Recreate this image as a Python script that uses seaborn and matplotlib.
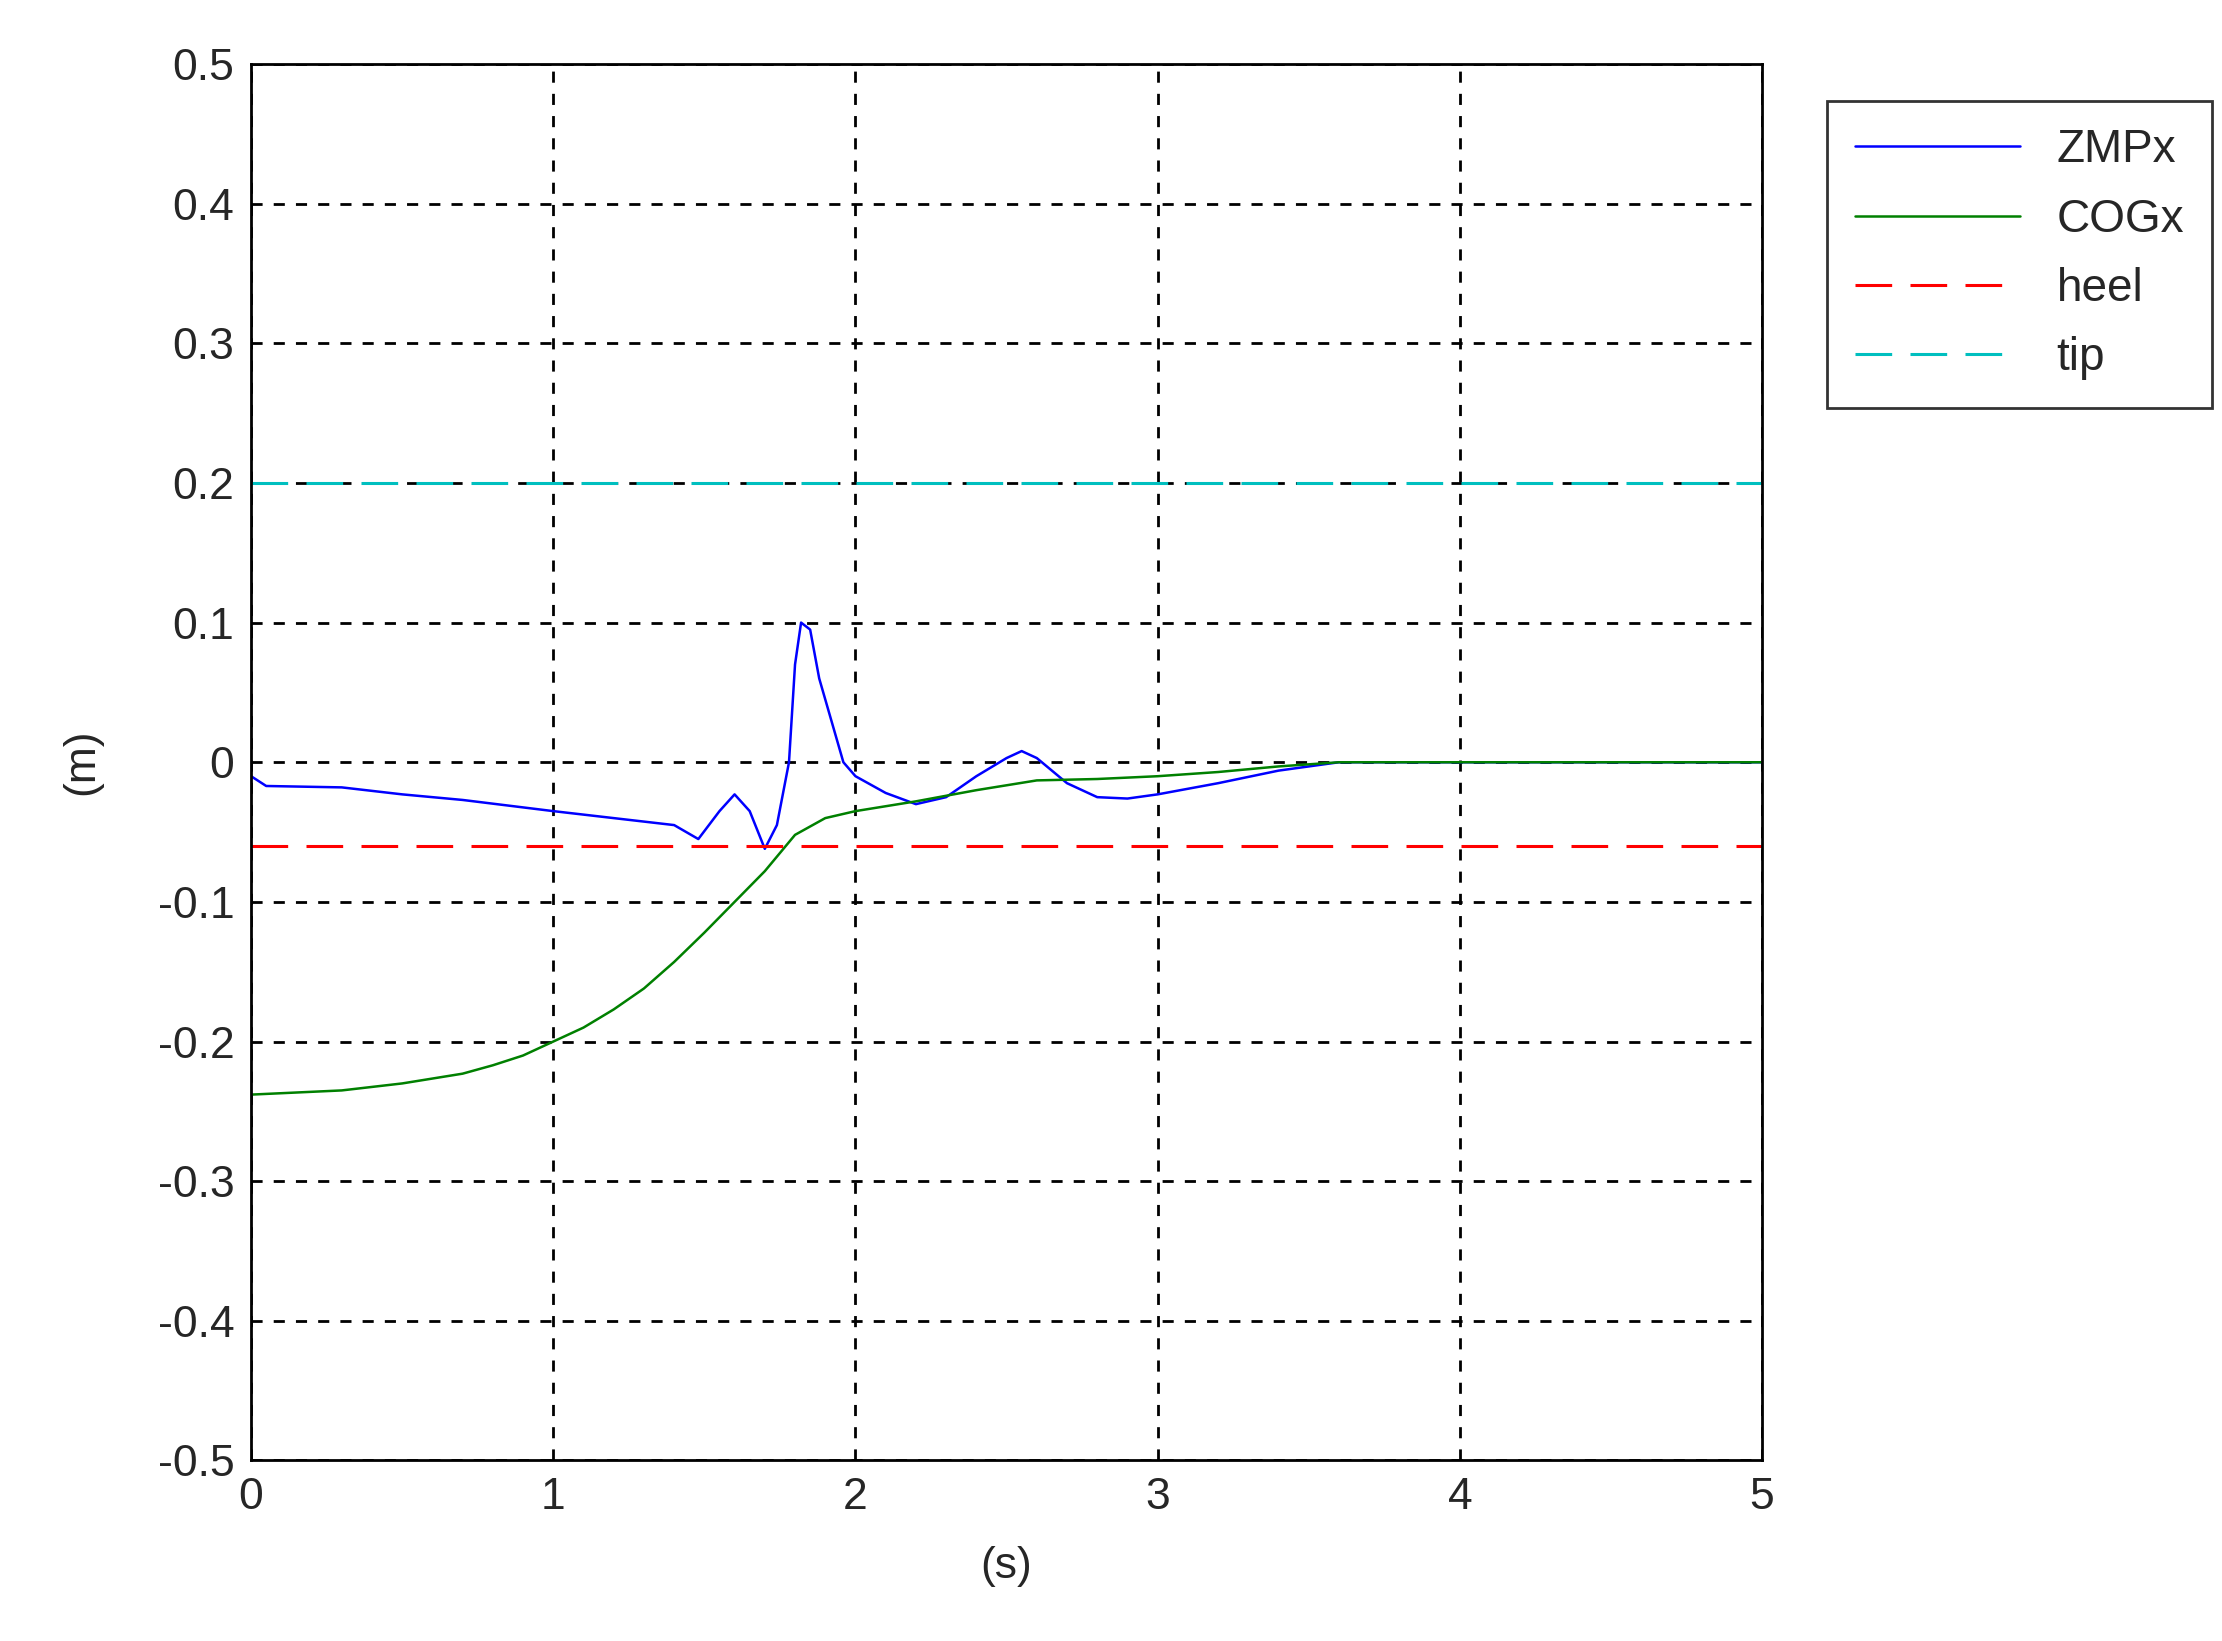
import numpy as np
import pandas as pd
import seaborn as sns
import matplotlib
matplotlib.use("Agg")
import matplotlib.pyplot as plt

# values
zmp_t = [0, 0.05, 0.3, 0.5, 0.7, 1.0, 1.2, 1.4, 1.48, 1.55, 1.6, 1.65, 1.7, 1.74, 1.78, 1.8, 1.82,
         1.85, 1.88, 1.92, 1.96, 2.0, 2.1, 2.2, 2.3, 2.4, 2.5, 2.55, 2.6, 2.7, 2.8, 2.9, 3.0, 3.2,
         3.4, 3.6, 5.0]
zmp_x = [-0.01, -0.017, -0.018, -0.023, -0.027, -0.035, -0.04, -0.045, -0.055, -0.035, -0.023,
         -0.035, -0.062, -0.045, 0.0, 0.07, 0.1, 0.095, 0.06, 0.03, 0.0, -0.01, -0.022, -0.03,
         -0.025, -0.01, 0.003, 0.008, 0.003, -0.015, -0.025, -0.026, -0.023, -0.015, -0.006, 0.0, 0.0]
cog_t = [0, 0.3, 0.5, 0.7, 0.8, 0.9, 1.0, 1.1, 1.2, 1.3, 1.4, 1.5, 1.6, 1.7, 1.8, 1.9, 2.0, 2.2,
         2.4, 2.6, 2.8, 3.0, 3.2, 3.4, 3.6, 5.0]
cog_x = [-0.238, -0.235, -0.23, -0.223, -0.217, -0.21, -0.2, -0.19, -0.177, -0.162, -0.143, -0.122,
         -0.1, -0.078, -0.052, -0.04, -0.035, -0.028, -0.02, -0.013, -0.012, -0.01, -0.007, -0.003,
         0.0, 0.0]
heel = -0.06
tip = 0.2

sns.set_style("white")
plt.rcParams["font.family"] = ["Liberation Sans", "DejaVu Sans"]

fig = plt.figure(figsize=(22.22, 16.41), dpi=100)
ax = fig.add_axes([0.113, 0.110, 0.680, 0.851])

sns.lineplot(x=zmp_t, y=zmp_x, ax=ax, color="#0000ff", lw=1.8, label="ZMPx")
sns.lineplot(x=cog_t, y=cog_x, ax=ax, color="#008000", lw=1.8, label="COGx")
sns.lineplot(x=[0, 5], y=[heel, heel], ax=ax, color="#ff0000", lw=2.2, label="heel")
sns.lineplot(x=[0, 5], y=[tip, tip], ax=ax, color="#00bfbf", lw=2.2, label="tip")
for ln in ax.lines[2:4]:
    ln.set_dashes((12, 6))

ax.set_xlim(0, 5)
ax.set_ylim(-0.5, 0.5)
ax.set_xticks(np.arange(0, 6, 1))
ax.set_yticks(np.round(np.arange(-0.5, 0.51, 0.1), 1))
ax.set_yticklabels(["-0.5", "-0.4", "-0.3", "-0.2", "-0.1", "0", "0.1", "0.2", "0.3", "0.4", "0.5"])
ax.grid(True, color="black", linestyle=(0, (4, 4)), lw=2)
ax.tick_params(labelsize=32, direction="in", length=8, width=1.5, pad=12)
for s in ax.spines.values():
    s.set_color("black")
    s.set_linewidth(2)
ax.set_xlabel("(s)", fontsize=32, labelpad=20)
ax.set_ylabel("(m)", fontsize=32, labelpad=40)

leg = ax.legend(loc="upper left", bbox_to_anchor=(1.028, 0.99), fontsize=33, frameon=True,
                fancybox=False, edgecolor="black", handlelength=3.6, borderpad=0.6,
                labelspacing=0.55)
leg.get_frame().set_linewidth(2)

fig.savefig("out.png", dpi=100)
